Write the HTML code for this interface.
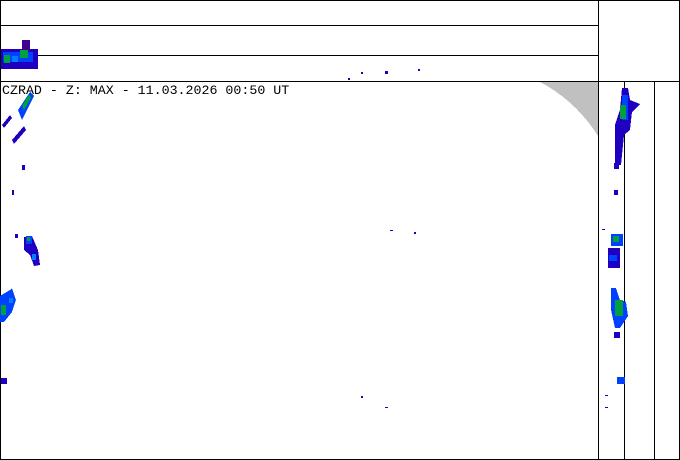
<!DOCTYPE html>
<html><head><meta charset="utf-8"><style>
html,body{margin:0;padding:0;background:#fff;}
svg{display:block;}
</style></head><body>
<svg width="680" height="460" xmlns="http://www.w3.org/2000/svg" shape-rendering="crispEdges">
<rect width="680" height="460" fill="#fff"/>
<path d="M540,82 L598,82 L598,136 C585,115 565,95 540,82 Z" fill="#c0c0c0"/>
<g fill="none" stroke="#000" stroke-width="1">
<rect x="0.5" y="0.5" width="679" height="459"/>
<line x1="0" y1="25.5" x2="598" y2="25.5"/>
<line x1="0" y1="55.5" x2="598" y2="55.5"/>
<line x1="0" y1="81.5" x2="680" y2="81.5"/>
<line x1="598.5" y1="0" x2="598.5" y2="460"/>
<line x1="624.5" y1="81" x2="624.5" y2="460"/>
<line x1="654.5" y1="81" x2="654.5" y2="460"/>
</g>
<!-- top-left blob -->
<g>
<rect x="1" y="49" width="37" height="20" fill="#2000c0"/>
<rect x="22" y="40" width="8" height="12" fill="#400090"/>
<rect x="3" y="52" width="30" height="10" fill="#0040ff"/>
<rect x="4" y="55" width="6" height="8" fill="#00a040"/>
<rect x="20" y="50" width="8" height="8" fill="#00a040"/>
<rect x="12" y="56" width="6" height="6" fill="#0080ff"/>
</g>
<!-- left streaks -->
<path d="M18,110 L30,92 L34,96 L22,120 Z" fill="#0040ff"/>
<path d="M22,106 L29,94 L31,98 L24,110 Z" fill="#00a040"/>
<path d="M2,125 L10,115 L12,118 L4,128 Z" fill="#2000c0"/>
<path d="M12,140 L24,126 L26,130 L14,144 Z" fill="#2000c0"/>
<rect x="22" y="165" width="3" height="5" fill="#2000c0"/>
<rect x="12" y="190" width="2" height="5" fill="#2000c0"/>
<path d="M24,237 L32,236 L38,250 L40,265 L34,266 L30,255 L24,250 Z" fill="#2000c0"/>
<rect x="26" y="236" width="6" height="8" fill="#0040ff"/>
<rect x="27" y="237" width="3" height="4" fill="#00a040"/>
<rect x="32" y="254" width="4" height="6" fill="#0080ff"/>
<rect x="15" y="234" width="3" height="4" fill="#2000c0"/>
<path d="M0,296 L10,290 L12,288 L16,300 L12,312 L4,322 L0,322 Z" fill="#0040ff"/>
<rect x="1" y="305" width="5" height="10" fill="#00a040"/>
<rect x="9" y="298" width="4" height="5" fill="#0080ff"/>
<rect x="1" y="378" width="6" height="6" fill="#2000c0"/>
<!-- scattered dots -->
<rect x="361" y="72" width="2" height="2" fill="#2000c0"/>
<rect x="385" y="71" width="3" height="3" fill="#2000c0"/>
<rect x="418" y="69" width="2" height="2" fill="#2000c0"/>
<rect x="348" y="78" width="2" height="2" fill="#2000c0"/>
<rect x="390" y="230" width="3" height="1" fill="#2000c0"/>
<rect x="414" y="232" width="2" height="2" fill="#2000c0"/>
<rect x="385" y="407" width="3" height="1" fill="#2000c0"/>
<rect x="361" y="396" width="2" height="2" fill="#2000c0"/>
<!-- right column blobs -->
<path d="M622,88 L628,88 L630,100 L640,104 L632,112 L630,130 L624,135 L621,165 L615,165 L615,125 L620,110 Z" fill="#2000c0"/>
<rect x="622" y="95" width="6" height="25" fill="#0040ff"/>
<rect x="620" y="105" width="6" height="14" fill="#00a040"/>
<rect x="614" y="163" width="5" height="6" fill="#2000c0"/>
<rect x="614" y="190" width="4" height="5" fill="#2000c0"/>
<rect x="611" y="234" width="12" height="12" fill="#0040ff"/>
<rect x="613" y="236" width="6" height="6" fill="#00a040"/>
<rect x="608" y="248" width="12" height="20" fill="#2000c0"/>
<rect x="609" y="255" width="8" height="6" fill="#0040ff"/>
<path d="M611,288 L616,288 L620,300 L626,302 L628,316 L620,328 L615,328 L611,310 Z" fill="#0040ff"/>
<rect x="615" y="300" width="8" height="16" fill="#00a040"/>
<rect x="614" y="332" width="6" height="6" fill="#2000c0"/>
<rect x="617" y="377" width="8" height="7" fill="#0040ff"/>
<rect x="602" y="229" width="3" height="1" fill="#2000c0"/>
<rect x="605" y="395" width="3" height="1" fill="#2000c0"/>
<rect x="605" y="407" width="3" height="1" fill="#2000c0"/>
<text x="2" y="94" font-family="Liberation Mono, monospace" font-size="13.3" fill="#000" shape-rendering="auto">CZRAD - Z: MAX - 11.03.2026 00:50 UT</text>
</svg>
</body></html>
